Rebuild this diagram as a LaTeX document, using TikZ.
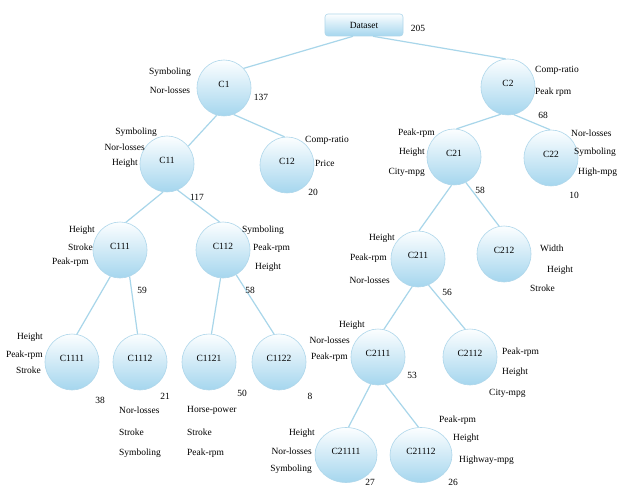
\documentclass[tikz,border=0pt]{standalone}
\usepackage{fontspec}
\setmainfont{Liberation Serif}
\usetikzlibrary{shapes.geometric}
\definecolor{edgeblue}{RGB}{168,214,234}
\definecolor{rimblue}{RGB}{175,215,235}
\definecolor{fillbot}{RGB}{165,214,238}
\definecolor{filltop}{RGB}{252,254,255}
\begin{document}
\begin{tikzpicture}[x=1bp,y=-1bp,
  every node/.style={font=\fontsize{9.5}{11}\selectfont, inner sep=0pt},
  cnode/.style={ellipse, draw=rimblue, line width=0.6bp, top color=filltop, bottom color=fillbot,
     minimum width=54bp, minimum height=56bp, text height=5bp, text depth=6bp},
  wnode/.style={cnode, minimum width=62bp, minimum height=55bp},
  boxnode/.style={rectangle, rounded corners=3bp, draw=rimblue, line width=0.6bp, top color=filltop, bottom color=fillbot,
     minimum width=78bp, minimum height=22bp, font=\fontsize{9.5}{11}\selectfont},
  edge/.style={draw=edgeblue, line width=1.2bp},
  lt/.style={anchor=east},
  rt/.style={anchor=west},
  num/.style={anchor=center}]
\useasboundingbox (0,0) rectangle (619,489);
\fill[white] (0,0) rectangle (619,489);

% nodes
\node[boxnode] (ds) at (364,25) {Dataset};
\node[cnode] (c1) at (224,88) {C1};
\node[cnode] (c2) at (508,87) {C2};
\node[cnode] (c11) at (167,164) {C11};
\node[cnode] (c12) at (287,165) {C12};
\node[cnode] (c21) at (454,157) {C21};
\node[cnode] (c22) at (551,158) {C22};
\node[cnode] (c111) at (120,250) {C111};
\node[cnode] (c112) at (223,250) {C112};
\node[cnode] (c211) at (418,259) {C211};
\node[cnode] (c212) at (504,254) {C212};
\node[cnode] (c1111) at (72,362) {C1111};
\node[cnode] (c1112) at (140,362) {C1112};
\node[cnode] (c1121) at (209,362) {C1121};
\node[cnode] (c1122) at (279,362) {C1122};
\node[cnode] (c2111) at (378,357) {C2111};
\node[cnode] (c2112) at (470,357) {C2112};
\node[wnode] (c21111) at (346,455) {C21111};
\node[wnode] (c21112) at (421,455) {C21112};

% edges
\draw[edge] ([xshift=-11bp]ds.south) -- (c1.45);
\draw[edge] ([xshift=9bp]ds.south) -- (c2.95);
\draw[edge] (c1.255) -- (c11.40);
\draw[edge] (c1.290) -- (c12.95);
\draw[edge] (c2.255) -- (c21.85);
\draw[edge] (c2.282) -- (c22.92);
\draw[edge] (c11.262) -- (c111.78);
\draw[edge] (c11.292) -- (c112.97);
\draw[edge] (c21.265) -- (c211.88);
\draw[edge] (c21.295) -- (c212.100);
\draw[edge] (c111.250) -- (c1111.80);
\draw[edge] (c111.290) -- (c1112.95);
\draw[edge] (c112.265) -- (c1121.85);
\draw[edge] (c112.298) -- (c1122.100);
\draw[edge] (c211.258) -- (c2111.78);
\draw[edge] (c211.292) -- (c2112.100);
\draw[edge] (c2111.255) -- (c21111.85);
\draw[edge] (c2111.285) -- (c21112.95);

% labels
\node[num] (n0) at (418,28) {205};
\node (a1) at (170,72) {Symboling};
\node (a2) at (170,90) {Nor-losses};
\node[num] (n1) at (261,97) {137};

\node[rt] (b1) at (535,70) {Comp-ratio};
\node[rt] (b2) at (535,92) {Peak rpm};
\node[num] (n2) at (543,115) {68};

\node[lt] (d1) at (157,132) {Symboling};
\node[lt] (d2) at (145,147) {Nor-losses};
\node[lt] (d3) at (138,163) {Height};
\node[num] (n11) at (197,197) {117};

\node[rt] (e1) at (305,140) {Comp-ratio};
\node[rt] (e2) at (315,163) {Price};
\node[num] (n12) at (313,192) {20};

\node[lt] (f1) at (435,133) {Peak-rpm};
\node[lt] (f2) at (425,152) {Height};
\node[lt] (f3) at (425,172) {City-mpg};
\node[num] (n21) at (480,190) {58};

\node[rt] (g1) at (571,133) {Nor-losses};
\node[rt] (g2) at (574,152) {Symboling};
\node[rt] (g3) at (578,172) {High-mpg};
\node[num] (n22) at (574,195) {10};

\node[lt] (h1) at (95,230) {Height};
\node[lt] (h2) at (93,247) {Stroke};
\node[lt] (h3) at (89,262) {Peak-rpm};
\node[num] (n111) at (142,290) {59};

\node[rt] (i1) at (242,230) {Symboling};
\node[rt] (i2) at (253,248) {Peak-rpm};
\node[rt] (i3) at (255,267) {Height};
\node[num] (n112) at (250,290) {58};

\node[lt] (j1) at (395,238) {Height};
\node[lt] (j2) at (387,258) {Peak-rpm};
\node[lt] (j3) at (390,280) {Nor-losses};
\node[num] (n211) at (447,292) {56};

\node[rt] (k1) at (540,248) {Width};
\node[rt] (k2) at (547,270) {Height};
\node[rt] (k3) at (530,288) {Stroke};

\node[lt] (m1) at (43,337) {Height};
\node[lt] (m2) at (43,355) {Peak-rpm};
\node[lt] (m3) at (41,370) {Stroke};
\node[num] (n1111) at (100,400) {38};

\node[num] (n1112) at (165,396) {21};
\node[rt] (o1) at (119,410) {Nor-losses};
\node[rt] (o2) at (119,432) {Stroke};
\node[rt] (o3) at (119,453) {Symboling};

\node[num] (n1121) at (242,393) {50};
\node[rt] (p1) at (187,410) {Horse-power};
\node[rt] (p2) at (187,432) {Stroke};
\node[rt] (p3) at (187,453) {Peak-rpm};

\node[num] (n1122) at (310,396) {8};

\node[lt] (q1) at (365,325) {Height};
\node[lt] (q2) at (350,340) {Nor-losses};
\node[lt] (q3) at (348,357) {Peak-rpm};
\node[num] (n2111) at (412,375) {53};

\node[rt] (r1) at (502,352) {Peak-rpm};
\node[rt] (r2) at (502,372) {Height};
\node[rt] (r3) at (489,393) {City-mpg};

\node[lt] (s1) at (315,433) {Height};
\node[lt] (s2) at (312,451) {Nor-losses};
\node[lt] (s3) at (312,469) {Symboling};
\node[num] (n21111) at (370,482) {27};

\node[rt] (t1) at (439,420) {Peak-rpm};
\node[rt] (t2) at (453,438) {Height};
\node[rt] (t3) at (459,460) {Highway-mpg};
\node[num] (n21112) at (453,482) {26};
\end{tikzpicture}
\end{document}
